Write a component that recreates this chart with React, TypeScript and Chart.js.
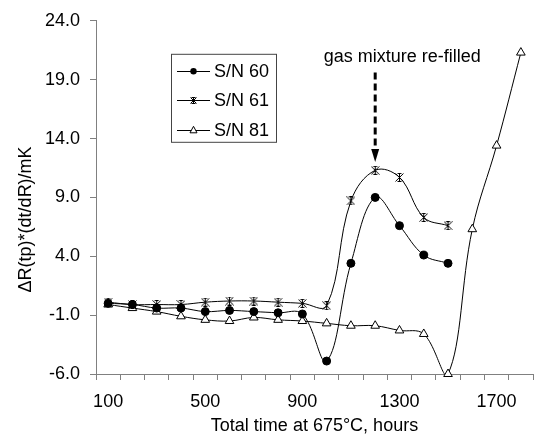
import { useEffect, useRef } from 'react';
import { Chart, registerables } from 'chart.js';
Chart.register(...registerables);

const categories = ['100', '200', '300', '400', '500', '600', '700', '800', '900', '1000', '1100', '1200', '1300', '1400', '1500', '1600', '1700', '1800'];
const sn60 = [0.0, -0.1, -0.4, -0.4, -0.7, -0.6, -0.7, -0.8, -0.9, -4.9, 3.4, 9.0, 6.6, 4.1, 3.4, null, null, null];
const sn61 = [0.1, -0.1, -0.1, -0.1, 0.1, 0.2, 0.2, 0.1, 0.0, -0.2, 8.7, 11.3, 10.7, 7.3, 6.6, null, null, null];
const sn81 = [-0.1, -0.4, -0.7, -1.1, -1.4, -1.5, -1.2, -1.4, -1.5, -1.7, -1.9, -1.9, -2.3, -2.6, -6.0, 6.3, 13.4, 21.3];
const seriesNames = ['S/N 60', 'S/N 61', 'S/N 81'];
const yTicks = { min: -6, max: 24, step: 5 };
const annotationText = 'gas mixture re-filled';
const annotationCategory = '1200';
const xTitle = 'Total time at 675°C, hours';
const yTitle = 'ΔR(tp)*(dt/dR)/mK';

const FONT = '"Liberation Sans", Arial, sans-serif';

function makeStar(size: number): HTMLCanvasElement {
  const c = document.createElement('canvas');
  c.width = size;
  c.height = size;
  const g = c.getContext('2d')!;
  g.strokeStyle = '#000';
  g.lineWidth = 1;
  const a = 0.5, b = size - 0.5, m = size / 2;
  g.beginPath();
  g.moveTo(a, a); g.lineTo(b, b);
  g.moveTo(b, a); g.lineTo(a, b);
  g.moveTo(m, 0); g.lineTo(m, size);
  g.moveTo(m - 2, 0.5); g.lineTo(m + 2, 0.5);
  g.moveTo(m - 2, size - 0.5); g.lineTo(m + 2, size - 0.5);
  g.stroke();
  return c;
}

const starBig = makeStar(9);
const starSmall = makeStar(7);

const overlayPlugin = {
  id: 'overlay',
  afterDatasetsDraw(chart: any) {
    const { ctx, chartArea, scales } = chart;
    const xs = scales.x, ys = scales.y;
    ctx.save();
    // Legend box
    const lx = chartArea.left + 75, ly = chartArea.top + 33;
    const lw = 105, lh = 88;
    ctx.fillStyle = '#fff';
    ctx.fillRect(lx, ly, lw, lh);
    ctx.strokeStyle = '#444';
    ctx.lineWidth = 1;
    ctx.strokeRect(lx + 0.5, ly + 0.5, lw, lh);
    ctx.font = `18px ${FONT}`;
    ctx.textBaseline = 'middle';
    ctx.textAlign = 'left';
    seriesNames.forEach((name, i) => {
      const ry = ly + 17 + i * 29.5;
      const x0 = lx + 6, x1 = lx + 39, mx = (x0 + x1) / 2;
      ctx.strokeStyle = '#000';
      ctx.lineWidth = 1;
      ctx.beginPath();
      ctx.moveTo(x0, Math.round(ry) + 0.5);
      ctx.lineTo(x1, Math.round(ry) + 0.5);
      ctx.stroke();
      if (i === 0) {
        ctx.fillStyle = '#000';
        ctx.beginPath();
        ctx.arc(mx, ry + 0.5, 3.2, 0, Math.PI * 2);
        ctx.fill();
      } else if (i === 1) {
        ctx.drawImage(starSmall, Math.round(mx - 3.5), Math.round(ry) - 3);
      } else {
        ctx.fillStyle = '#fff';
        ctx.beginPath();
        ctx.moveTo(mx, ry - 3.5);
        ctx.lineTo(mx + 3.5, ry + 3);
        ctx.lineTo(mx - 3.5, ry + 3);
        ctx.closePath();
        ctx.fill();
        ctx.stroke();
      }
      ctx.fillStyle = '#000';
      ctx.fillText(name, lx + 43, ry + 1);
    });
    // Annotation arrow
    const ax = xs.getPixelForValue(categories.indexOf(annotationCategory));
    const yStart = ys.getPixelForValue(19.6);
    const yTip = ys.getPixelForValue(12.0);
    const headLen = 13;
    ctx.strokeStyle = '#000';
    ctx.lineWidth = 3;
    ctx.setLineDash([7, 4]);
    ctx.beginPath();
    ctx.moveTo(ax, yStart);
    ctx.lineTo(ax, yTip - headLen + 1);
    ctx.stroke();
    ctx.setLineDash([]);
    ctx.fillStyle = '#000';
    ctx.beginPath();
    ctx.moveTo(ax - 4, yTip - headLen);
    ctx.lineTo(ax + 4, yTip - headLen);
    ctx.lineTo(ax, yTip);
    ctx.closePath();
    ctx.fill();
    ctx.font = `18px ${FONT}`;
    ctx.textAlign = 'center';
    ctx.textBaseline = 'middle';
    ctx.fillText(annotationText, ax + 27, ys.getPixelForValue(20.95));
    // Y title
    ctx.save();
    ctx.translate(26, (chartArea.top + chartArea.bottom) / 2 + 22);
    ctx.rotate(-Math.PI / 2);
    ctx.font = `18px ${FONT}`;
    ctx.fillText(yTitle, 0, 0);
    ctx.restore();
    ctx.restore();
  },
};

export default function App() {
  const ref = useRef<HTMLCanvasElement>(null);
  useEffect(() => {
    document.body.style.margin = '0';
    const common = { borderColor: '#000', borderWidth: 1, tension: 0.38, fill: false, clip: 12 };
    const chart = new Chart(ref.current!, {
      type: 'line',
      data: {
        labels: categories,
        datasets: [
          {
            ...common, label: seriesNames[0], data: sn60,
            pointStyle: 'circle', pointRadius: 4, pointBackgroundColor: '#000', pointBorderColor: '#000',
          },
          {
            ...common, label: seriesNames[1], data: sn61,
            pointStyle: starBig as any, pointRadius: 5, pointBackgroundColor: '#000', pointBorderColor: '#000',
          },
          {
            ...common, label: seriesNames[2], data: sn81,
            pointStyle: 'triangle', pointRadius: 5, pointBackgroundColor: '#fff', pointBorderColor: '#000', pointBorderWidth: 1,
          },
        ],
      },
      options: {
        animation: false,
        responsive: false,
        elements: { line: { capBezierPoints: false } },
        layout: { padding: { top: 20, right: 1, left: 0, bottom: 0 } },
        plugins: { legend: { display: false }, tooltip: { enabled: false } },
        scales: {
          x: {
            type: 'category',
            offset: true,
            grid: { offset: true, drawOnChartArea: false, drawTicks: true, tickLength: 6, color: '#808080' },
            border: { color: '#808080', width: 1 },
            ticks: {
              autoSkip: false, maxRotation: 0, minRotation: 0, padding: 11,
              color: '#000', font: { family: FONT, size: 18 },
              callback: (_v: any, i: number) => (i % 4 === 0 ? categories[i] : ''),
            },
            title: { display: true, text: xTitle, color: '#000', font: { family: FONT, size: 18 }, padding: { top: 0, bottom: 7 } },
            afterFit: (s: any) => { s.height = 70; },
          },
          y: {
            min: yTicks.min, max: yTicks.max,
            grid: { drawOnChartArea: false, drawTicks: true, tickLength: 6, color: '#808080' },
            border: { color: '#808080', width: 1 },
            ticks: {
              stepSize: yTicks.step, padding: 10, color: '#000', font: { family: FONT, size: 18 },
              callback: (v: any) => Number(v).toFixed(1),
            },
            afterFit: (s: any) => { s.width = 96; },
          },
        },
      },
      plugins: [overlayPlugin],
    });
    return () => chart.destroy();
  }, []);
  return (
    <div style={{ position: 'fixed', left: 0, top: 0, width: 539, height: 444 }}>
      <canvas ref={ref} width={539} height={444} style={{ display: 'block' }} />
    </div>
  );
}
